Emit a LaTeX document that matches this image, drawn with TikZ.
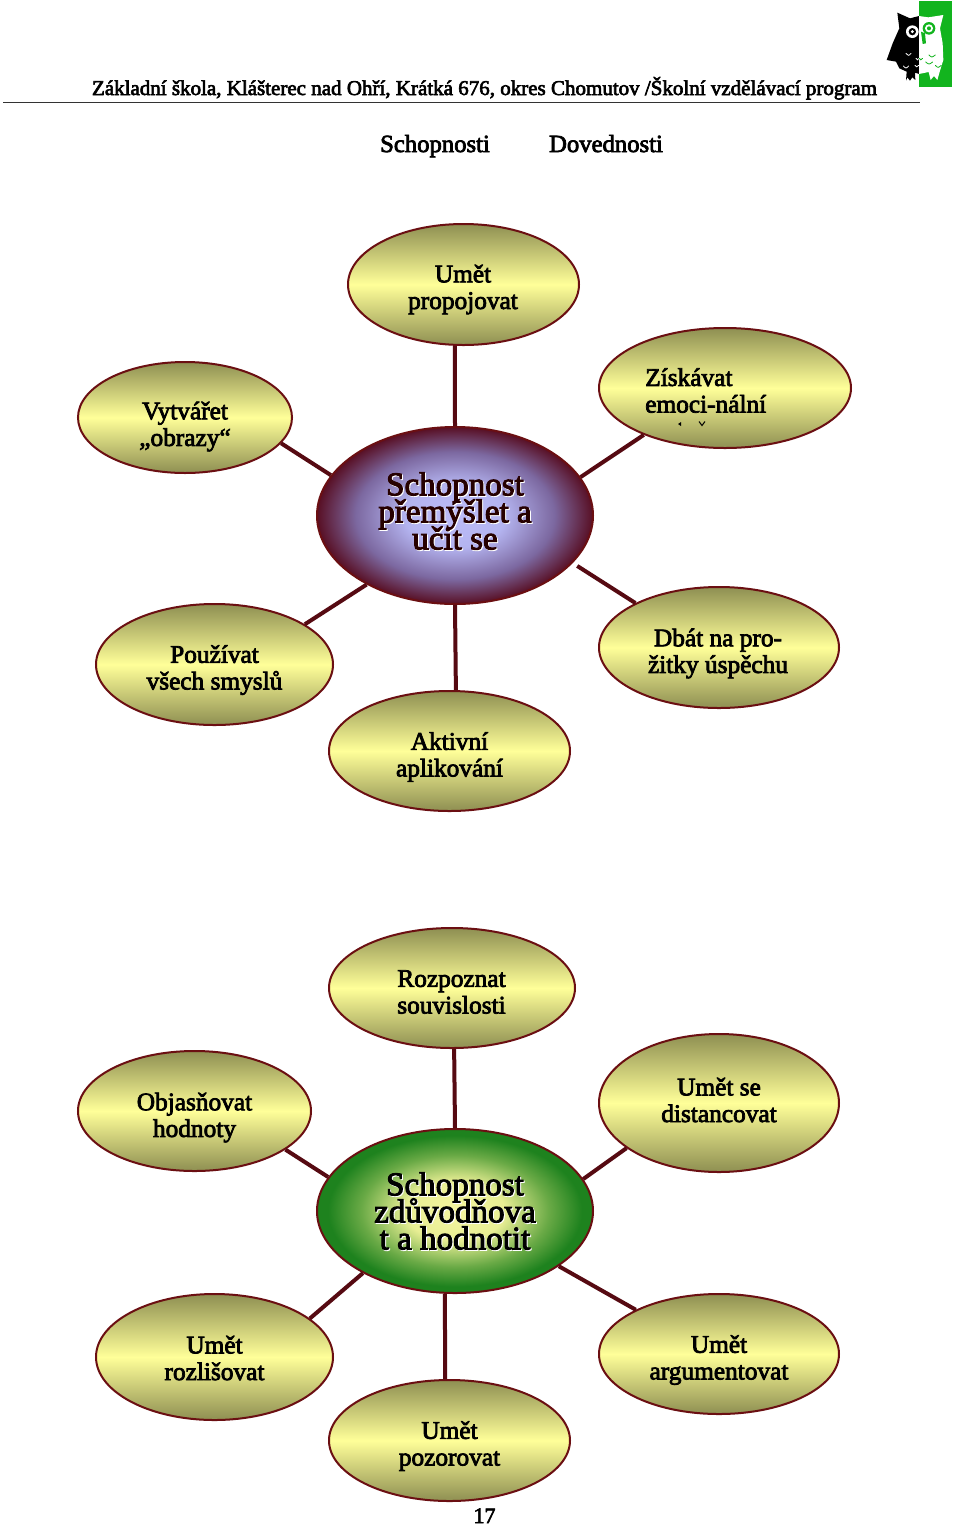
\documentclass[tikz,border=0pt]{standalone}
\usepackage{fontspec}
\setmainfont{Liberation Serif}[FakeBold=3]
\usetikzlibrary{shapes.geometric}
\definecolor{linkred}{HTML}{560A12}
\definecolor{edgered}{HTML}{6B0F12}
\definecolor{olive}{HTML}{8E8F52}
\definecolor{paleyel}{HTML}{FFFF99}
\definecolor{owlgreen}{HTML}{12B41E}
\definecolor{pa}{HTML}{BCBCF8}
\definecolor{pb}{HTML}{B4B4F0}
\definecolor{pc}{HTML}{7C68A0}
\definecolor{pd}{HTML}{580F24}
\definecolor{ga}{HTML}{F6F6A0}
\definecolor{gb}{HTML}{E8EE94}
\definecolor{gc}{HTML}{6AAA46}
\definecolor{gd}{HTML}{1E821E}
\pgfdeclareradialshading{purpleglow}{\pgfpoint{0bp}{0bp}}{color(0bp)=(pa); color(9bp)=(pb); color(18bp)=(pc); color(25bp)=(pd); color(50bp)=(pd)}
\pgfdeclareradialshading{greenglow}{\pgfpoint{0bp}{0bp}}{color(0bp)=(ga); color(9bp)=(gb); color(17bp)=(gc); color(23bp)=(gd); color(50bp)=(gd)}
\newcommand{\hubfont}{\fontsize{24.8}{20.3}\selectfont\lineskiplimit=-20pt\relax}
\tikzset{
  x=0.75pt,y=-0.75pt,
  bubble/.style={ellipse,draw=edgered,line width=1.5pt,inner sep=0pt,top color=olive,bottom color=olive,middle color=paleyel},
  hub/.style={ellipse,draw=edgered,line width=1.5pt,inner sep=0pt},
  link/.style={draw=linkred,line width=3pt},
  bubtext/.style={inner sep=0pt,align=center,font=\fontsize{19}{20}\selectfont},
  leftlabel/.style={bubtext,align=left},
  hubtext/.style={inner sep=0pt,align=center,font=\hubfont},
  heading/.style={inner sep=0pt,anchor=base,font=\fontsize{18.5}{20}\selectfont},
  owlmark/.style={line width=0.6pt,line cap=round}
}
\newcommand{\bub}[8]{%
  \node[bubble,minimum width=#4*0.75pt,minimum height=#5*0.75pt] (#1) at (#2,#3) {};
  \node[bubtext] (#1t) at (#6,#7) {#8};}
\begin{document}
\begin{tikzpicture}
\useasboundingbox (0,0) rectangle (960,1525);
\fill[white] (0,0) rectangle (960,1525);
% header
\node[inner sep=0pt,anchor=base] (hdr) at (484.5,95) {\fontsize{15.75}{18}\selectfont Základní škola, Klášterec nad Ohří, Krátká 676, okres Chomutov /Školní vzdělávací program};
\coordinate (ruleA) at (3,102.5); \coordinate (ruleB) at (920,102.5);
\draw[line width=0.8pt,black!80] (ruleA) -- (ruleB);
\node[heading] (sch) at (435,152) {Schopnosti};
\node[heading] (dov) at (606,152) {Dovednosti};
% owl
\begin{scope}[shift={(860,0)},scale=0.3333]
\fill[owlgreen] (177,2) rectangle (277,262);
\fill[black] (112,38) -- (150,55) -- (177,48) -- (177,222) -- (165,218) -- (166,240) -- (157,232) -- (150,242) -- (142,232) -- (138,242) -- (140,215) -- (118,205) -- (108,185) -- (80,180) -- (98,130) -- (118,85) -- cycle;
\fill[white] (177,48) -- (205,52) -- (250,45) -- (240,85) -- (248,130) -- (250,180) -- (240,212) -- (232,240) -- (222,228) -- (212,240) -- (206,216) -- (177,222) -- cycle;
\fill[white] (157,95) circle (19);
\fill[black] (157,95) circle (11);
\fill[white] (157,95) circle (5);
\fill[owlgreen] (207,85) circle (19);
\fill[white] (207,85) circle (12);
\fill[owlgreen] (207,85) circle (6);
\fill[owlgreen] (183,95) -- (195,100) -- (198,130) -- (188,132) -- cycle;
\draw[white,owlmark] (138,160) .. controls (146,168) .. (153,160);
\draw[white,owlmark] (130,198) .. controls (138,206) .. (146,198);
\draw[white,owlmark] (165,196) .. controls (170,202) .. (176,196);
\draw[white,owlmark] (168,175) .. controls (173,181) .. (177,175);
\draw[owlgreen,owlmark] (207,165) .. controls (215,173) .. (226,165);
\draw[owlgreen,owlmark] (197,186) .. controls (207,194) .. (218,186);
\draw[owlgreen,owlmark] (226,196) .. controls (234,204) .. (244,196);
\draw[owlgreen,owlmark] (178,175) .. controls (182,181) .. (188,175);
\end{scope}
% top cluster
\node[hub,shading=purpleglow,minimum width=276*0.75pt,minimum height=177*0.75pt] (hubA) at (455,515.5) {};
\bub{prop}{463.5}{284.5}{231}{121}{463}{289.5}{Umět\\propojovat}
\bub{vytv}{185}{417.5}{214}{111}{185}{426.5}{Vytvářet\\„obrazy“}
\node[bubble,minimum width=252*0.75pt,minimum height=120*0.75pt] (zisk) at (725,388) {};
\node[leftlabel,anchor=north west] (ziskt) at (645,368) {Získávat\\emoci-nální};
\fill[black] (678,424) -- (681,422) -- (681,426) -- cycle;
\draw[black,line width=0.8pt] (699,421.5) -- (702,425.5) -- (705,421.5);
\bub{pouz}{214.5}{664.5}{237}{121}{214.5}{670}{Používat\\všech smyslů}
\bub{dbat}{719}{647.5}{240}{121}{718}{653.5}{Dbát na pro-\\žitky úspěchu}
\bub{aktv}{449.5}{751}{241}{120}{449.5}{757}{Aktivní\\aplikování}
\node[hubtext,text=white] (hubAs) at (456,512) {Schopnost\\přemýšlet a\\učit se};
\node[hubtext,text=black!85!red] (hubAt) at (455,511) {Schopnost\\přemýšlet a\\učit se};
\draw[link] (prop.262.5) -- (hubA.90);
\draw[link] (vytv.-15.6) -- (hubA.162.7);
\draw[link] (zisk.210.9) -- (hubA.17.6);
\draw[link] (pouz.24) -- (hubA.218.4);
\draw[link,shorten >=4pt] (dbat.152.3) -- (hubA.-22.9);
\draw[link] (aktv.84.8) -- (hubA.270);
% bottom cluster
\node[hub,shading=greenglow,minimum width=276*0.75pt,minimum height=164*0.75pt] (hubB) at (455,1211) {};
\bub{rozp}{452}{988}{246}{120}{451.5}{992}{Rozpoznat\\souvislosti}
\bub{obja}{194.5}{1111}{233}{120}{194.5}{1117.5}{Objasňovat\\hodnoty}
\bub{dist}{719}{1103}{240}{138}{719}{1100}{Umět se\\distancovat}
\bub{rozl}{214.5}{1357}{237}{126}{214.5}{1358}{Umět\\rozlišovat}
\bub{argu}{719}{1354}{240}{120}{719}{1360}{Umět\\argumentovat}
\bub{pozo}{449.5}{1440.5}{241}{121}{449.5}{1446}{Umět\\pozorovat}
\node[hubtext,text=white] (hubBs) at (456,1212) {Schopnost\\zdůvodňova\\t a hodnotit};
\node[hubtext,text=black] (hubBt) at (455,1211) {Schopnost\\zdůvodňova\\t a hodnotit};
\draw[link] (rozp.272.9) -- (hubB.90);
\draw[link] (obja.-23.1) -- (hubB.165.2);
\draw[link] (dist.206.8) -- (hubB.14.7);
\draw[link] (rozl.22.2) -- (hubB.214.6);
\draw[link] (argu.152.4) -- (hubB.-28.1);
\draw[link] (pozo.94.3) -- (hubB.263);
\node[inner sep=0pt,anchor=base,font=\fontsize{16.5}{18}\selectfont] (pageno) at (484.5,1523) {17};
\end{tikzpicture}
\end{document}
